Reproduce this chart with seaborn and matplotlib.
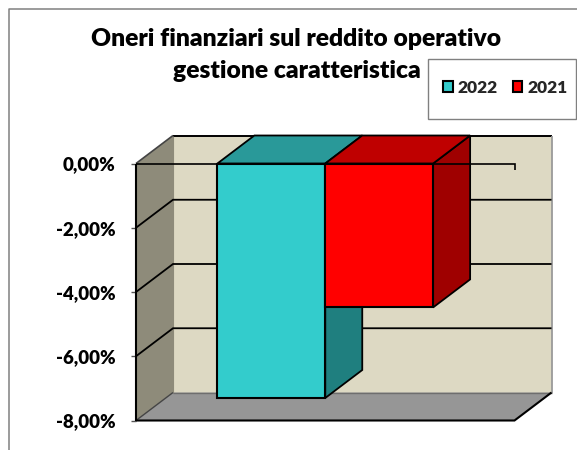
import matplotlib
matplotlib.use("Agg")
import matplotlib.pyplot as plt
from matplotlib.patches import Polygon, Rectangle
import pandas as pd
import seaborn as sns

years = ["2022", "2021"]
values = [-7.3, -4.48]
category = ["Oneri"]
front_colors = ["#33CCCC", "#FF0000"]
top_colors = ["#299999", "#BF0000"]
side_colors = ["#1F7F7F", "#9F0000"]
y_ticks = [0, -2, -4, -6, -8]
y_labels = ["0,00%", "-2,00%", "-4,00%", "-6,00%", "-8,00%"]
title = "Oneri finanziari sul reddito operativo\ngestione caratteristica"

W, H = 577, 450
sns.set_theme(style="white")
plt.rcParams["font.family"] = ["Lato", "DejaVu Sans"]

fig = plt.figure(figsize=(W / 100, H / 100), dpi=100, facecolor="white")
ax = fig.add_axes([136 / W, 1 - 420.5 / H, (551.5 - 136) / W, (420.5 - 135.5) / H])

DX = 37 / 378.5   # depth, in category units
DY = 28 / 32.125  # depth, in value units
Y0, Y1 = -8, 0
X0, X1 = -0.5, 0.5

df = pd.DataFrame({"cat": category * 2, "year": years, "value": values})
sns.barplot(data=df, x="cat", y="value", hue="year", hue_order=years,
            palette=front_colors, saturation=1, width=0.57, dodge=True,
            edgecolor="black", linewidth=1.5, ax=ax, zorder=6)
bars = sorted([p for p in ax.patches if p.get_height() != 0], key=lambda p: p.get_x())

ax.set_xlim(X0, X1 + DX)
ax.set_ylim(Y0, DY)
ax.set_xticks([])
ax.set_xlabel("")
ax.set_ylabel("")
ax.patch.set_visible(False)
for s in ax.spines.values():
    s.set_visible(False)


def line(xs, ys, color="black", lw=1.3, z=2):
    ax.plot(xs, ys, color=color, lw=lw, zorder=z, clip_on=False,
            solid_joinstyle="miter", solid_capstyle="butt")


# walls
ax.add_patch(Rectangle((X0 + DX, Y0 + DY), X1 - X0, Y1 - Y0, fc="#DDD9C3", ec="none", zorder=1))
ax.add_patch(Polygon([(X0, Y1), (X0 + DX, Y1 + DY), (X0 + DX, Y0 + DY), (X0, Y0)],
                     fc="#8E8B7A", ec="none", zorder=1))
ax.add_patch(Polygon([(X0, Y0), (X1, Y0), (X1 + DX, Y0 + DY), (X0 + DX, Y0 + DY)],
                     fc="#969696", ec="none", zorder=1))
# wall outlines
grey = "#6E6E6E"
line([X0 + DX, X1 + DX], [Y1 + DY] * 2, lw=1.4)
line([X1 + DX, X1 + DX], [Y1 + DY, Y0 + DY], color="#9A9A9A", lw=1.3)
line([X0 + DX, X0 + DX], [Y1 + DY, Y0 + DY], color="#8E8B7A", lw=0.8)
line([X0 + DX, X1 + DX], [Y0 + DY] * 2, color=grey, lw=1.0)
line([X0, X0 + DX], [Y1, Y1 + DY], color="#444444", lw=1.2)
line([X0, X0 + DX], [Y0, Y0 + DY], color="#444444", lw=1.0)
line([X0, X1, X1 + DX], [Y0, Y0, Y0 + DY], lw=1.5)
line([X0, X0], [Y0, Y1], lw=1.5)

# gridlines on the side and back walls
for t in y_ticks[1:-1]:
    line([X0, X0 + DX, X1 + DX], [t, t + DY, t + DY])

# bar depth faces
for i, b in enumerate(bars):
    x0, x1 = b.get_x(), b.get_x() + b.get_width()
    yb = b.get_y() + b.get_height()
    z = 3 + i * 3
    ax.add_patch(Polygon([(x1, Y1), (x1 + DX, Y1 + DY), (x1 + DX, yb + DY), (x1, yb)],
                         fc=side_colors[i], ec="black", lw=1.3, zorder=z, joinstyle="miter", clip_on=False))
    ax.add_patch(Polygon([(x0, Y1), (x0 + DX, Y1 + DY), (x1 + DX, Y1 + DY), (x1, Y1)],
                         fc=top_colors[i], ec="black", lw=1.3, zorder=z, joinstyle="miter", clip_on=False))
    b.set_zorder(z + 1)

# category axis line sitting at zero, with its end tick
line([X0, X1, X1], [0, 0, -0.2], lw=1.2, z=10)

ax.set_yticks(y_ticks)
ax.set_yticklabels(y_labels, fontsize=13.4, fontweight="heavy", color="black")
ax.tick_params(axis="y", left=True, length=3.6, width=1.0, color="#555555", pad=11)

# outer frame
fig.add_artist(plt.Line2D([8.5 / W, 8.5 / W, 1], [0, 1 - 8.5 / H, 1 - 8.5 / H],
                          color="#808080", lw=1.1, transform=fig.transFigure))

fig.text(296.5 / W, 1 - 55 / H, title, ha="center", va="center", fontsize=17.75,
         fontweight="heavy", color="black", linespacing=1.6)

# legend
fig.add_artist(Rectangle((427.5 / W, 1 - 118.5 / H), 148.5 / W, 60 / H, fc="white",
                         ec="#808080", lw=1.0, transform=fig.transFigure, zorder=20))
handles, labels = ax.get_legend_handles_labels()
ax.get_legend().remove()
leg = fig.legend(handles, labels, loc="center left", bbox_to_anchor=(443 / W, 1 - 88 / H),
                 ncol=2, frameon=False, prop={"weight": "heavy", "size": 12.5},
                 handlelength=0.55, handleheight=0.6, handletextpad=0.3, columnspacing=0.85,
                 borderpad=0, borderaxespad=0)
leg.set_zorder(21)
for h in leg.legend_handles:
    h.set_edgecolor("black")
    h.set_linewidth(1.5)

fig.savefig("out.png", dpi=100, facecolor="white")
